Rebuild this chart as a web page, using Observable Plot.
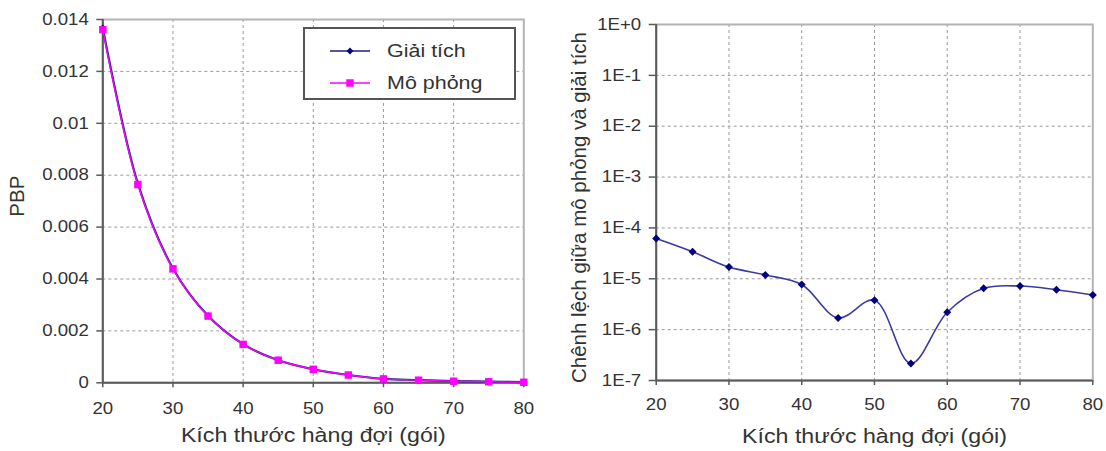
<!DOCTYPE html>
<html>
<head>
<meta charset="utf-8">
<script src="https://cdn.jsdelivr.net/npm/d3@7"></script>
<script src="https://cdn.jsdelivr.net/npm/@observablehq/plot@0.6"></script>
<style>
  html, body { margin: 0; padding: 0; background: #fff; width: 1106px; height: 451px; overflow: hidden; }
  #wrap { position: relative; width: 1106px; height: 451px; }
  #left { position: absolute; left: 0; top: 0; }
  #right { position: absolute; left: 556px; top: 0; }
  #legend { position: absolute; left: 303px; top: 27px; width: 213px; height: 73px; border: 2px solid #555;
            background: #fff; box-sizing: border-box; font-family: "Liberation Sans", Arial, sans-serif; color: #333; }
  #legend .lab { position: absolute; left: 82px; font-size: 19px; line-height: 22px; height: 22px; white-space: nowrap;
                 transform: scaleX(1.13); transform-origin: left center; }
  #legend svg { position: absolute; left: 0; top: 0; }
</style>
</head>
<body>
<div id="wrap">
  <div id="left"></div>
  <div id="right"></div>
  <div id="legend"></div>
</div>
<script>
// ---- data ----
const queueSizes = [20, 25, 30, 35, 40, 45, 50, 55, 60, 65, 70, 75, 80];
const simPBP = [0.01361, 0.00764, 0.00439, 0.00257, 0.00148, 0.00087, 0.00052, 0.00030, 0.00015, 0.00010, 0.00006, 0.00004, 0.00002];
const anaPBP = [0.013672, 0.007674, 0.004407, 0.002582, 0.001488, 0.000872, 0.000524, 0.000300, 0.000152, 0.000107, 0.000067, 0.000046, 0.000025];
const diffValues = [6.2e-5, 3.4e-5, 1.7e-5, 1.19e-5, 7.7e-6, 1.7e-6, 3.8e-6, 2.16e-7, 2.2e-6, 6.5e-6, 7.2e-6, 6.1e-6, 4.8e-6];

const seriesNames = ["Giải tích", "Mô phỏng"];
const xTitle = "Kích thước hàng đợi (gói)";
const leftYTitle = "PBP";
const rightYTitle = "Chênh lệch giữa mô phỏng và giải tích";

const xTicks = [20, 30, 40, 50, 60, 70, 80];
const xTickLabels = ["20", "30", "40", "50", "60", "70", "80"];
const leftYTicks = [0, 0.002, 0.004, 0.006, 0.008, 0.01, 0.012, 0.014];
const leftYLabels = ["0", "0.002", "0.004", "0.006", "0.008", "0.01", "0.012", "0.014"];
const rightYTicks = [1, 1e-1, 1e-2, 1e-3, 1e-4, 1e-5, 1e-6, 1e-7];
const rightYLabels = ["1E+0", "1E-1", "1E-2", "1E-3", "1E-4", "1E-5", "1E-6", "1E-7"];

// ---- tables ----
const rows = queueSizes.map((q, i) => ({q, sim: simPBP[i], ana: anaPBP[i], diff: diffValues[i]}));
const fmt = (ticks, labels) => { const m = new Map(ticks.map((t, i) => [t, labels[i]])); return d => m.get(d) ?? ""; };

const FONT = '"Liberation Sans", Arial, sans-serif';
const gridColor = "#9a9a9a";
const axisColor = "#5a5a5a";
const frameColor = "#b4b4b4";
const textColor = "#333";

const left = Plot.plot({
  width: 550, height: 451,
  marginLeft: 102.3, marginRight: 26.7, marginTop: 19, marginBottom: 68.7,
  style: {fontFamily: FONT, fontSize: "16.5px", color: textColor, background: "transparent", overflow: "visible"},
  x: {domain: [20, 80]},
  y: {domain: [0, 0.014]},
  marks: [
    Plot.gridX(xTicks.slice(1, -1), {stroke: gridColor, strokeOpacity: 1, strokeDasharray: "3,3"}),
    Plot.gridY(leftYTicks.slice(1, -1), {stroke: gridColor, strokeOpacity: 1, strokeDasharray: "3,3"}),
    Plot.frame({stroke: frameColor, strokeWidth: 2}),
    Plot.axisX({ticks: xTicks, tickFormat: fmt(xTicks, xTickLabels), tickSize: 5, tickPadding: 14, stroke: axisColor, strokeWidth: 1.5, label: null, fill: textColor}),
    Plot.axisY({ticks: leftYTicks, tickFormat: fmt(leftYTicks, leftYLabels), tickSize: 6, tickPadding: 8, stroke: axisColor, strokeWidth: 1.5, label: null, fill: textColor}),
    Plot.ruleX([20], {stroke: axisColor, strokeWidth: 2}),
    Plot.ruleY([0], {stroke: axisColor, strokeWidth: 2}),
    Plot.line(rows, {x: "q", y: "ana", curve: "catmull-rom", stroke: "#1c1c80", strokeWidth: 2.2}),
    Plot.dot(rows, {x: "q", y: "ana", symbol: "diamond2", r: 3.2, fill: "#000080", stroke: "none"}),
    Plot.line(rows, {x: "q", y: "sim", curve: "catmull-rom", stroke: "#ff00ff", strokeWidth: 1.4}),
    Plot.dot(rows, {x: "q", y: "sim", symbol: "square", r: 4.2, fill: "#ff00ff", stroke: "none"}),
    Plot.text([xTitle], {text: d => d, frameAnchor: "bottom", dy: 53, textAnchor: "middle", lineAnchor: "middle", fontSize: 20.5, fill: textColor}),
    Plot.text([leftYTitle], {text: d => d, frameAnchor: "left", dx: -85.3, dy: -5, rotate: -90, textAnchor: "middle", lineAnchor: "middle", fontSize: 20.5, fill: textColor})
  ]
});

const right = Plot.plot({
  width: 550, height: 451,
  marginLeft: 99.7, marginRight: 13.7, marginTop: 24, marginBottom: 71,
  style: {fontFamily: FONT, fontSize: "16.5px", color: textColor, background: "transparent", overflow: "visible"},
  x: {domain: [20, 80]},
  y: {type: "log", domain: [1e-7, 1]},
  marks: [
    Plot.gridX(xTicks.slice(1, -1), {stroke: gridColor, strokeOpacity: 1, strokeDasharray: "3,3"}),
    Plot.gridY(rightYTicks.slice(1, -1), {stroke: gridColor, strokeOpacity: 1, strokeDasharray: "3,3"}),
    Plot.frame({stroke: frameColor, strokeWidth: 2}),
    Plot.axisX({ticks: xTicks, tickFormat: fmt(xTicks, xTickLabels), tickSize: 5, tickPadding: 13, stroke: axisColor, strokeWidth: 1.5, label: null, fill: textColor}),
    Plot.axisY({ticks: rightYTicks, tickFormat: fmt(rightYTicks, rightYLabels), tickSize: 7, tickPadding: 8, stroke: axisColor, strokeWidth: 1.5, label: null, fill: textColor}),
    Plot.ruleX([20], {stroke: axisColor, strokeWidth: 2}),
    Plot.ruleY([1e-7], {stroke: axisColor, strokeWidth: 2}),
    Plot.line(rows, {x: "q", y: "diff", curve: "catmull-rom", stroke: "#3a3aa0", strokeWidth: 1.6}),
    Plot.dot(rows, {x: "q", y: "diff", symbol: "diamond2", r: 3.6, fill: "#000080", stroke: "none"}),
    Plot.text([xTitle], {text: d => d, frameAnchor: "bottom", dy: 56, textAnchor: "middle", lineAnchor: "middle", fontSize: 20.5, fill: textColor}),
    Plot.text([rightYTitle], {text: d => d, frameAnchor: "left", dx: -77, dy: 5, rotate: -90, textAnchor: "middle", lineAnchor: "middle", fontSize: 20.5, fill: textColor})
  ]
});

document.getElementById("left").appendChild(left);
document.getElementById("right").appendChild(right);

// horizontal text in the reference is slightly widened
function widen(svg, s) {
  svg.querySelectorAll("text").forEach(t => {
    const tr = t.getAttribute("transform") || "";
    if (/rotate/.test(tr)) return;
    const w = t.getComputedTextLength();
    if (w > 0) { t.setAttribute("textLength", (w * s).toFixed(2)); t.setAttribute("lengthAdjust", "spacingAndGlyphs"); }
  });
}
widen(left, 1.13);
widen(right, 1.13);

// legend
const legend = document.getElementById("legend");
const legendRows = [
  {name: seriesNames[0], color: "#1c1c80", marker: "#000080", symbol: d3.symbolDiamond2, size: 30, cy: 22},
  {name: seriesNames[1], color: "#ff00ff", marker: "#ff00ff", symbol: d3.symbolSquare, size: 56, cy: 54}
];
const ls = d3.select(legend).append("svg").attr("width", 209).attr("height", 69);
legendRows.forEach(r => {
  ls.append("line").attr("x1", 25).attr("x2", 65).attr("y1", r.cy).attr("y2", r.cy).attr("stroke", r.color).attr("stroke-width", 1.6);
  ls.append("path").attr("d", d3.symbol(r.symbol, r.size)()).attr("transform", `translate(45,${r.cy})`).attr("fill", r.marker);
  d3.select(legend).append("span").attr("class", "lab").style("top", (r.cy - 11) + "px").text(r.name);
});
</script>
</body>
</html>
